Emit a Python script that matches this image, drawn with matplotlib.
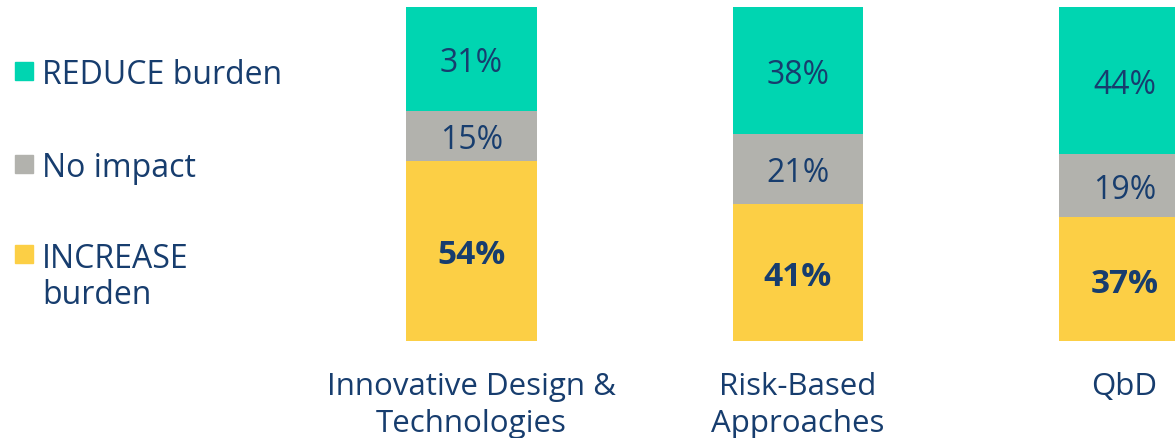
import matplotlib
matplotlib.use("Agg")
import matplotlib.pyplot as plt
from matplotlib.patches import Rectangle

categories = ["Innovative Design &\nTechnologies", "Risk-Based\nApproaches", "QbD"]
increase = [54, 41, 37]
no_impact = [15, 21, 19]
reduce = [31, 38, 44]
series_names = ["REDUCE burden", "No impact", "INCREASE\nburden"]

C_TEAL = "#00D5B1"
C_GRAY = "#B2B2AD"
C_YEL = "#FCCF45"
NAVY = "#173D6E"

plt.rcParams['font.family'] = ['Open Sans', 'DejaVu Sans']

W, H = 1175, 439
DY = -4  # small downward nudge of text, in pixels
fig = plt.figure(figsize=(W / 100, H / 100), dpi=100)
ax = fig.add_axes([0, (H - 342) / H, 1, (342 - 8) / H])
ax.set_xlim(-471.5 / 326.5, (W - 471.5) / 326.5)
ax.set_ylim(0, 100)
ax.axis('off')

x = list(range(len(categories)))
bw = 0.40
ax.bar(x, increase, bw, color=C_YEL)
bot2 = increase
ax.bar(x, no_impact, bw, bottom=bot2, color=C_GRAY)
bot3 = [a + b for a, b in zip(increase, no_impact)]
ax.bar(x, reduce, bw, bottom=bot3, color=C_TEAL)

def label(xv, yv, s, **kw):
    ax.annotate(s, xy=(xv, yv), xycoords='data', xytext=(0, DY),
                textcoords='offset pixels', ha='center', va='center', color=NAVY, **kw)

for i in x:
    label(i, increase[i] / 2, f"{increase[i]}%", fontsize=24, fontweight='bold')
    label(i, bot2[i] + no_impact[i] / 2, f"{no_impact[i]}%", fontsize=23)
    label(i, bot3[i] + reduce[i] / 2, f"{reduce[i]}%", fontsize=23)
    lines = categories[i].split("\n")
    for k, ln in enumerate(lines):
        ax.annotate(ln, xy=(i, 0), xycoords='data', xytext=(0, -(383 - 342) - 37 * k + DY),
                    textcoords='offset pixels', ha='center', va='center',
                    fontsize=22.5, color=NAVY)

# legend
leg_colors = [C_TEAL, C_GRAY, C_YEL]
leg_y = [72, 165, 255]
for name, col, yy in zip(series_names, leg_colors, leg_y):
    fig.patches.append(Rectangle((15 / W, (H - yy - 9) / H), 18 / W, 18 / H,
                                 transform=fig.transFigure, color=col))
    for k, ln in enumerate(name.split("\n")):
        fig.text(42 / W, (H - yy - 36 * k + DY) / H, ln, ha='left', va='center',
                 fontsize=23, color=NAVY)

fig.savefig("out.png", dpi=100)
